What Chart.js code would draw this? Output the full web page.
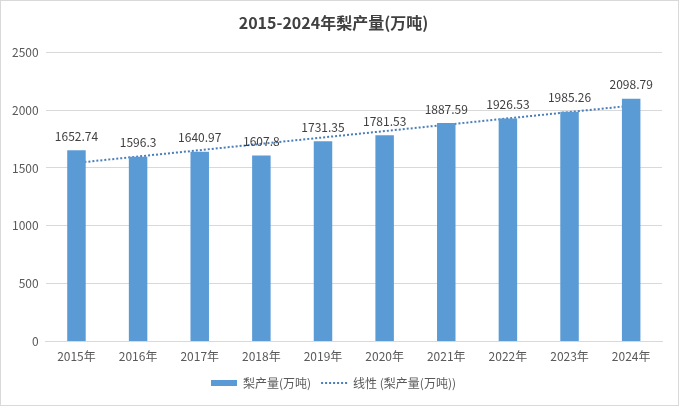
<!DOCTYPE html>
<html>
<head>
<meta charset="utf-8">
<script src="https://cdn.jsdelivr.net/npm/chart.js@4"></script>
<style>
  html, body { margin: 0; padding: 0; background: #fff; }
  #wrap { width: 677px; height: 404px; border: 1px solid #d9d9d9; }
</style>
</head>
<body>
<div id="wrap"><canvas id="chart" width="677" height="404"></canvas></div>
<script>
const years = ['2015年', '2016年', '2017年', '2018年', '2019年', '2020年', '2021年', '2022年', '2023年', '2024年'];
const output = [1652.74, 1596.3, 1640.97, 1607.8, 1731.35, 1781.53, 1887.59, 1926.53, 1985.26, 2098.79];
// trendline ends
const trendYears = ['2015年', '2024年'];
const trendValues = [1544, 2038];
const yTicks = [0, 500, 1000, 1500, 2000, 2500];

const font = '"Noto Sans CJK SC", "Noto Sans", sans-serif';

const barLabels = {
  id: 'barLabels',
  afterDatasetsDraw(chart) {
    const ctx = chart.ctx;
    const meta = chart.getDatasetMeta(0);
    ctx.save();
    ctx.font = '12px ' + font;
    ctx.fillStyle = '#404040';
    ctx.textAlign = 'center';
    ctx.textBaseline = 'bottom';
    meta.data.forEach((bar, i) => {
      ctx.fillText(String(output[i]), bar.x, bar.y - 8);
    });
    ctx.restore();
  }
};

new Chart(document.getElementById('chart'), {
  type: 'bar',
  data: {
    labels: years,
    datasets: [{
      label: '梨产量(万吨)',
      data: output,
      backgroundColor: '#5b9bd5',
      borderWidth: 0,
      barPercentage: 0.6,
      categoryPercentage: 0.5,
      pointStyle: 'rect',
      order: 0
    }, {
      type: 'line',
      label: '线性 (梨产量(万吨))',
      data: trendYears.map((y, i) => ({ x: y, y: trendValues[i] })),
      borderColor: '#4a7ebb',
      borderWidth: 2,
      borderDash: [2, 2],
      pointRadius: 0,
      pointStyle: 'line',
      fill: false,
      order: 1
    }]
  },
  options: {
    responsive: false,
    animation: false,
    layout: { padding: { left: 4, right: 16, top: 6, bottom: 6 } },
    plugins: {
      title: {
        display: true,
        text: '2015-2024年梨产量(万吨)',
        color: '#404040',
        font: { family: font, size: 16, weight: 'bold' },
        padding: { top: 6, bottom: 20 }
      },
      legend: {
        position: 'bottom',
        labels: {
          usePointStyle: true,
          pointStyleWidth: 26,
          boxWidth: 26,
          boxHeight: 6,
          color: '#595959',
          font: { family: font, size: 12 },
          padding: 10,
          generateLabels: chart => {
            const items = Chart.defaults.plugins.legend.labels.generateLabels(chart);
            items.forEach(it => {
              if (it.datasetIndex === 1) {
                it.lineDash = [2, 2];
                it.lineWidth = 2;
              }
            });
            return items;
          }
        }
      },
      tooltip: { enabled: false }
    },
    scales: {
      x: {
        grid: { display: false },
        border: { color: '#d9d9d9' },
        ticks: { color: '#595959', font: { family: font, size: 12 }, padding: 0 },
        afterFit: scale => { scale.height += 3; }
      },
      y: {
        min: 0,
        max: 2500,
        afterBuildTicks: axis => { axis.ticks = yTicks.map(v => ({ value: v })); },
        grid: { color: '#d9d9d9', drawTicks: false },
        border: { display: false },
        ticks: {
          color: '#595959',
          font: { family: font, size: 12 },
          padding: 7,
          callback: v => String(v)
        }
      }
    }
  },
  plugins: [barLabels]
});
</script>
</body>
</html>
